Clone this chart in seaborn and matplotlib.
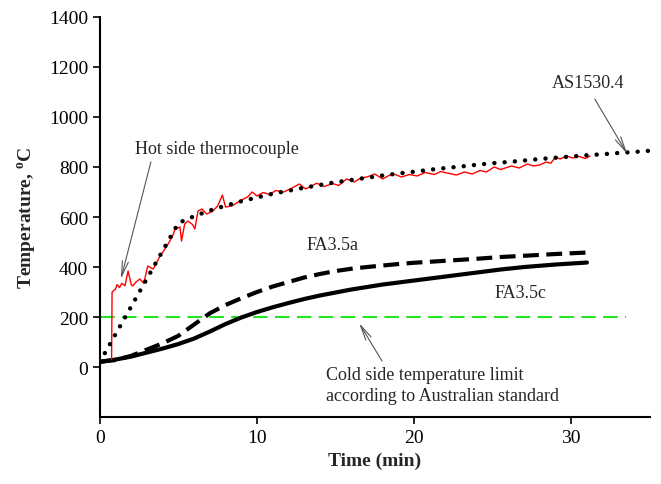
import numpy as np
import pandas as pd
import matplotlib
matplotlib.use("Agg")
import matplotlib.pyplot as plt
import seaborn as sns

# Standard fire curve (AS1530.4)
std_time = [0, 5, 6, 7, 8, 9, 10, 11, 12, 13, 14, 15, 16, 17, 18, 19, 20,
            21, 22, 23, 24, 25, 26, 27, 28, 29, 30, 31, 32, 33, 34, 35]
std_temp = [20, 576, 603, 626, 645, 663, 678, 693, 705, 717, 728, 739, 748,
            757, 766, 774, 781, 789, 796, 802, 809, 815, 820, 826, 832, 837,
            842, 847, 851, 856, 860, 865]

# Hot side thermocouple (red)
hot_time = [0.75, 0.78, 1.0, 1.1, 1.25, 1.4, 1.6, 1.8, 2.0, 2.1, 2.3, 2.55,
            2.8, 3.05, 3.4, 3.8, 4.27, 4.6, 4.8, 5.1, 5.2, 5.4, 5.6, 5.9,
            6.05, 6.25, 6.5, 6.8, 7.2, 7.5, 7.8, 8.0, 8.4, 8.9, 9.4, 9.7,
            10.0, 10.4, 10.8, 11.2, 11.7, 12.2, 12.7, 13.1, 13.5, 13.8, 14.3,
            14.8, 15.2, 15.7, 16.2, 16.6, 17.0, 17.5, 18.0, 18.4, 18.7, 19.2,
            19.7, 20.2, 20.7, 21.3, 21.7, 22.1, 22.7, 23.2, 23.7, 24.2, 24.6,
            25.1, 25.5, 25.9, 26.2, 26.7, 27.2, 27.6, 28.0, 28.4, 28.7, 29.0,
            29.3, 29.7, 30.1, 30.5, 30.9, 31.2]
hot_temp = [30, 300, 312, 330, 318, 335, 325, 384, 330, 324, 340, 352,
            335, 404, 392, 440, 484, 520, 552, 560, 504, 572, 584, 570,
            552, 624, 632, 612, 624, 644, 688, 640, 644, 664, 680, 700,
            684, 698, 690, 706, 700, 715, 732, 712, 725, 735, 722,
            734, 726, 752, 740, 756, 760, 772, 752, 766, 772, 760,
            770, 764, 778, 770, 782, 776, 768, 780, 772, 786, 780,
            800, 790, 798, 804, 796, 812, 804, 808, 820, 815, 840,
            832, 844, 836, 842, 834, 844]

# Cold side, FA3.5a (dashed) and FA3.5c (solid)
fa_time = [0, 1, 2, 3, 4, 5, 6, 7, 8, 9, 10, 11, 12, 13, 14, 15, 16, 17, 18,
           19, 20, 22, 24, 25.5, 27, 29, 31]
fa_a = [22, 28, 45, 70, 95, 125, 170, 215, 248, 275, 300, 322, 340, 358, 372,
        384, 393, 400, 406, 412, 417, 425, 433, 440, 445, 452, 458]
fa_c = [20, 30, 42, 58, 74, 92, 114, 142, 172, 198, 220, 239, 256, 272, 286,
        298, 310, 320, 330, 338, 346, 362, 378, 390, 400, 410, 418]

limit_time = [0, 33.5]
limit_temp = [200, 200]

sns.set_style("ticks")
plt.rcParams['font.family'] = ['Liberation Serif', 'DejaVu Serif']

fig = plt.figure(figsize=(6.61, 4.85), dpi=100)
ax = fig.add_axes([0.151, 0.138, 0.832, 0.825])

sns.lineplot(x=limit_time, y=limit_temp, ax=ax, color='#22e622', lw=1.5,
             linestyle=(0, (7, 3.5)))
sns.lineplot(x=fa_time, y=fa_a, ax=ax, color='black', lw=3,
             linestyle=(0, (3.8, 1.8)))
sns.lineplot(x=fa_time, y=fa_c, ax=ax, color='black', lw=3)
sns.lineplot(x=hot_time, y=hot_temp, ax=ax, color='red', lw=1)
sns.lineplot(x=std_time, y=std_temp, ax=ax, color='black', lw=3.2,
             linestyle=(0, (0.01, 2.3)), dash_capstyle='round')

ax.set_xlim(0, 35)
ax.set_ylim(-200, 1400)
ax.set_xticks([0, 10, 20, 30])
ax.set_yticks(range(0, 1401, 200))
ax.tick_params(labelsize=14, length=5, width=1.2, direction='out', colors='black')
for sp in ['left', 'bottom']:
    ax.spines[sp].set_linewidth(1.5)
    ax.spines[sp].set_color('black')
sns.despine(ax=ax)

ax.set_xlabel('Time (min)', fontsize=14, fontweight='bold')
ax.set_ylabel('Temperature, $^{\\mathregular{o}}$C', fontsize=14, fontweight='bold')
ax.yaxis.set_label_coords(-0.11, 0.5)

arrow = dict(arrowstyle='->,head_length=1.1,head_width=0.22', color='#555555', lw=0.8,
             shrinkA=0, shrinkB=0)
ax.annotate('', xy=(1.34, 352), xytext=(3.25, 820), arrowprops=arrow)
ax.text(7.45, 872, 'Hot side thermocouple', fontsize=13, ha='center', va='center')
ax.annotate('', xy=(33.57, 852), xytext=(31.5, 1072), arrowprops=arrow)
ax.text(31.1, 1136, 'AS1530.4', fontsize=13, ha='center', va='center')
ax.text(14.84, 492, 'FA3.5a', fontsize=13, ha='center', va='center')
ax.text(26.75, 300, 'FA3.5c', fontsize=13, ha='center', va='center')
ax.annotate('', xy=(16.5, 176), xytext=(17.96, 24), arrowprops=arrow)
ax.text(14.4, -72, 'Cold side temperature limit\naccording to Australian standard',
        fontsize=13, ha='left', va='center', linespacing=1.25)

fig.savefig('out.png', dpi=100)
